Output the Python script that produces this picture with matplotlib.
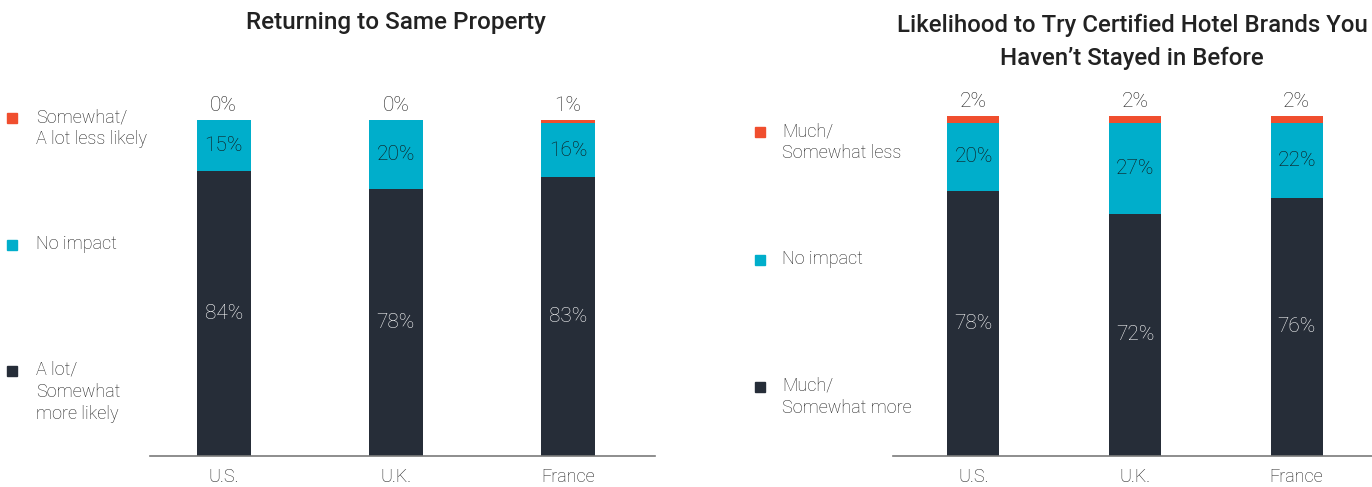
import matplotlib.pyplot as plt
from matplotlib.patches import Rectangle

countries = ["U.S.", "U.K.", "France"]

# left panel: Returning to Same Property
left_title = "Returning to Same Property"
left_more = [84, 78, 83]
left_none = [15, 20, 16]
left_less = [0, 0, 1]
left_legend = ["Somewhat/\nA lot less likely", "No impact", "A lot/\nSomewhat\nmore likely"]

# right panel: trying certified brands
right_title = "Likelihood to Try Certified Hotel Brands You\nHaven\u2019t Stayed in Before"
right_more = [78, 72, 76]
right_none = [20, 27, 22]
right_less = [2, 2, 2]
right_legend = ["Much/\nSomewhat less", "No impact", "Much/\nSomewhat more"]

DARK = "#262d38"
CYAN = "#00aecb"
RED = "#f04e2e"
TXT = "#1f1f1f"
WT = "light"

plt.rcParams['font.family'] = ['Roboto', 'DejaVu Sans']

W, H = 1372, 487
fig = plt.figure(figsize=(W / 100, H / 100), dpi=100)


def px_axes(x0, x1, ytop, ybot):
    return fig.add_axes([x0 / W, (H - ybot) / H, (x1 - x0) / W, (ybot - ytop) / H])


def draw_panel(ax, more, none, less, xlim, width):
    xs = list(range(len(countries)))
    tot = [m + n + l for m, n, l in zip(more, none, less)]
    m_ = [100 * m / t for m, t in zip(more, tot)]
    n_ = [100 * n / t for n, t in zip(none, tot)]
    l_ = [100 * l / t for l, t in zip(less, tot)]
    ax.bar(xs, m_, width, color=DARK)
    ax.bar(xs, n_, width, bottom=m_, color=CYAN)
    ax.bar(xs, l_, width, bottom=[a + b for a, b in zip(m_, n_)], color=RED)
    for i in xs:
        ax.text(i, m_[i] / 2, f"{more[i]}%", ha="center", va="center",
                color="white", fontsize=15, fontweight=WT)
        ax.text(i, m_[i] + n_[i] / 2, f"{none[i]}%", ha="center", va="center",
                color="#111111", fontsize=15, fontweight=WT)
        ax.text(i, 100 + 1.5, f"{less[i]}%", ha="center", va="bottom",
                color=TXT, fontsize=15, fontweight=WT, clip_on=False)
    ax.set_xlim(*xlim)
    ax.set_ylim(0, 100)
    ax.set_xticks(xs)
    ax.set_xticklabels(countries, fontsize=13, color=TXT, fontweight=WT)
    ax.tick_params(axis="x", length=0, pad=9)
    ax.set_yticks([])
    for s in ["top", "right", "left"]:
        ax.spines[s].set_visible(False)
    ax.spines["bottom"].set_color("#7a7a7a")
    ax.spines["bottom"].set_linewidth(1.2)


def draw_legend(x_sq, x_txt, ys, labels):
    for y, lab, c in zip(ys, labels, [RED, CYAN, DARK]):
        fig.add_artist(Rectangle(((x_sq - 5) / W, (H - y - 5) / H), 10 / W, 10 / H,
                                 color=c, transform=fig.transFigure))
        fig.text(x_txt / W, (H - y + 10) / H, lab, ha="left", va="top",
                 fontsize=13, color=TXT, fontweight=WT, linespacing=1.3)


ax1 = px_axes(150, 655, 120, 456)
draw_panel(ax1, left_more, left_none, left_less, (-0.428, 2.506), 0.314)
fig.text(396 / W, (H - 22) / H, left_title, ha="center", va="center",
         fontsize=17.5, fontweight="medium", color="#222222")
draw_legend(12, 36, [118, 245, 371], left_legend)

ax2 = px_axes(893, 1372, 116, 456)
draw_panel(ax2, right_more, right_none, right_less, (-0.498, 2.467), 0.322)
fig.text(1132 / W, (H - 42) / H, right_title, ha="center", va="center",
         fontsize=17.3, fontweight="medium", color="#222222", linespacing=1.5)
draw_legend(760, 782, [132, 260, 387], right_legend)

fig.savefig("out.png", dpi=100)
